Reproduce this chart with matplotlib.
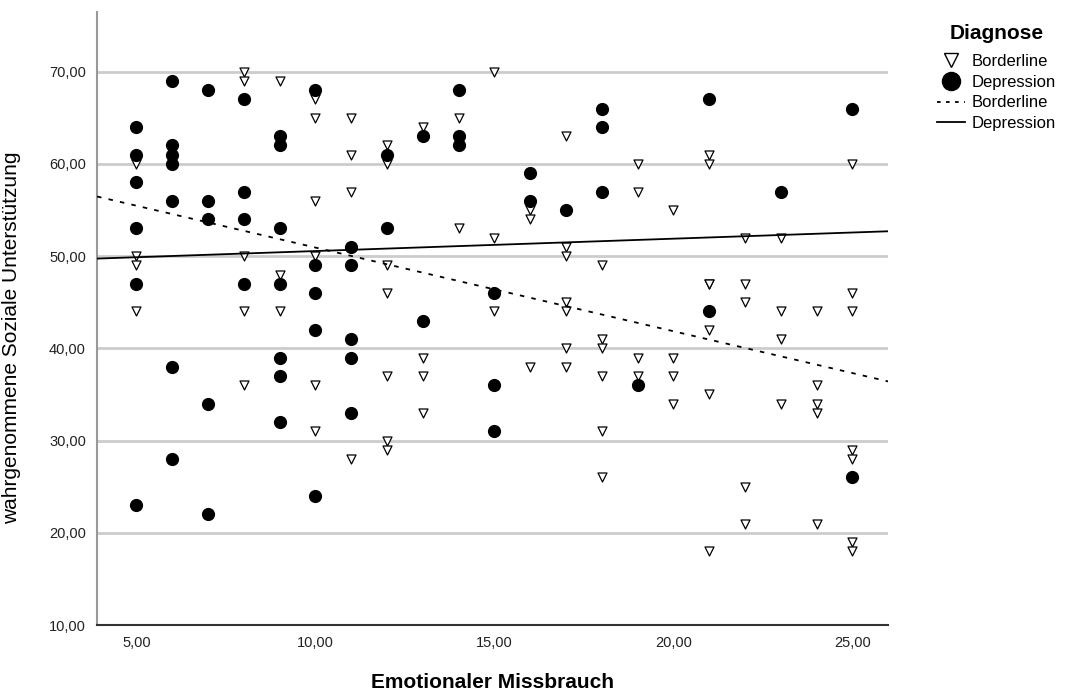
import numpy as np
import matplotlib
matplotlib.use("Agg")
import matplotlib.pyplot as plt
from matplotlib.lines import Line2D
from matplotlib.ticker import FuncFormatter

plt.rcParams['font.family'] = ['Liberation Sans', 'DejaVu Sans']

# Borderline (Dreiecke)
bl_x = [5, 5, 5, 5,
        8, 8, 8, 8, 8,
        9, 9, 9,
        10, 10, 10, 10, 10, 10,
        11, 11, 11, 11,
        12, 12, 12, 12, 12, 12, 12,
        13, 13, 13, 13,
        14, 14,
        15, 15, 15,
        16, 16, 16,
        17, 17, 17, 17, 17, 17, 17,
        18, 18, 18, 18, 18, 18,
        19, 19, 19, 19,
        20, 20, 20, 20,
        21, 21, 21, 21, 21, 21, 21,
        22, 22, 22, 22, 22,
        23, 23, 23, 23,
        24, 24, 24, 24, 24,
        25, 25, 25, 25, 25, 25, 25]
bl_y = [60, 50, 49, 44,
        70, 69, 50, 44, 36,
        69, 48, 44,
        67, 65, 56, 50, 36, 31,
        65, 61, 57, 28,
        62, 60, 49, 46, 37, 30, 29,
        64, 39, 37, 33,
        65, 53,
        70, 52, 44,
        55, 54, 38,
        63, 51, 50, 45, 44, 40, 38,
        49, 41, 40, 37, 31, 26,
        60, 57, 39, 37,
        55, 39, 37, 34,
        61, 60, 47, 47, 42, 35, 18,
        52, 47, 45, 25, 21,
        52, 44, 41, 34,
        44, 36, 34, 33, 21,
        60, 46, 44, 29, 28, 19, 18]

# Depression (Punkte)
dp_x = [5, 5, 5, 5, 5, 5,
        6, 6, 6, 6, 6, 6, 6,
        7, 7, 7, 7, 7,
        8, 8, 8, 8,
        9, 9, 9, 9, 9, 9, 9,
        10, 10, 10, 10, 10,
        11, 11, 11, 11, 11,
        12, 12,
        13, 13,
        14, 14, 14,
        15, 15, 15,
        16, 16,
        17,
        18, 18, 18,
        19,
        21, 21,
        23,
        25, 25]
dp_y = [64, 61, 58, 53, 47, 23,
        69, 62, 61, 60, 56, 38, 28,
        68, 56, 54, 34, 22,
        67, 57, 54, 47,
        63, 62, 53, 47, 39, 37, 32,
        68, 49, 46, 42, 24,
        51, 49, 41, 39, 33,
        61, 53,
        63, 43,
        68, 63, 62,
        46, 36, 31,
        59, 56,
        55,
        66, 64, 57,
        36,
        67, 44,
        57,
        66, 26]

y_ticks = [10, 20, 30, 40, 50, 60, 70]
x_ticks = [5, 10, 15, 20, 25]

fig = plt.figure(figsize=(10.7, 6.93), dpi=100)
ax = fig.add_axes([0.0907, 0.0981, 0.7393, 0.885])

for t in y_ticks[1:]:
    ax.axhline(t, color='#cccccc', lw=2, zorder=0)

ax.scatter(bl_x, bl_y, marker='v', s=42, facecolor='white', edgecolor='black',
           linewidths=0.9, zorder=3)
ax.scatter(dp_x, dp_y, marker='o', s=72, facecolor='black', edgecolor='black',
           zorder=3)

xs = np.array([3.9, 26.0])
b1, b0 = np.polyfit(bl_x, bl_y, 1)
d1, d0 = np.polyfit(dp_x, dp_y, 1)
ax.plot(xs, b0 + b1 * xs, color='black', lw=1.3, ls=(0, (2.5, 4)), zorder=4)
ax.plot(xs, d0 + d1 * xs, color='black', lw=1.3, zorder=4)

ax.set_xlim(3.9, 26.0)
ax.set_ylim(10, 76.5)
ax.set_xticks(x_ticks)
ax.set_yticks(y_ticks)
fmt = FuncFormatter(lambda v, p: f"{v:.2f}".replace('.', ','))
ax.xaxis.set_major_formatter(fmt)
ax.yaxis.set_major_formatter(fmt)
ax.tick_params(length=0, labelsize=10.5, colors='#222222', pad=8)
for s in ['top', 'right']:
    ax.spines[s].set_visible(False)
ax.spines['left'].set_color('#999999')
ax.spines['left'].set_linewidth(1.5)
ax.spines['bottom'].set_color('#333333')
ax.spines['bottom'].set_linewidth(1.5)

ax.set_xlabel('Emotionaler Missbrauch', fontsize=15, fontweight='bold')
ax.xaxis.set_label_coords(0.5, -0.078)
ax.set_ylabel('wahrgenommene Soziale Unterstützung', fontsize=15)
ax.yaxis.set_label_coords(-0.096, 0.468)

handles = [
    Line2D([], [], marker='v', ls='', markersize=10, markerfacecolor='white',
           markeredgecolor='black', markeredgewidth=1),
    Line2D([], [], marker='o', ls='', markersize=13, color='black'),
    Line2D([], [], color='black', lw=1.3, ls=(0, (2, 3))),
    Line2D([], [], color='black', lw=1.3),
]
labels = ['Borderline', 'Depression', 'Borderline', 'Depression']
leg = fig.legend(handles, labels, title='Diagnose', loc='upper left',
                 bbox_to_anchor=(0.868, 0.978), frameon=False, fontsize=12,
                 title_fontsize=15, handlelength=1.7, handletextpad=0.4,
                 labelspacing=0.35, borderpad=0)
leg.get_title().set_fontweight('bold')
leg._legend_box.sep = 8

fig.savefig('out.png', dpi=100)
